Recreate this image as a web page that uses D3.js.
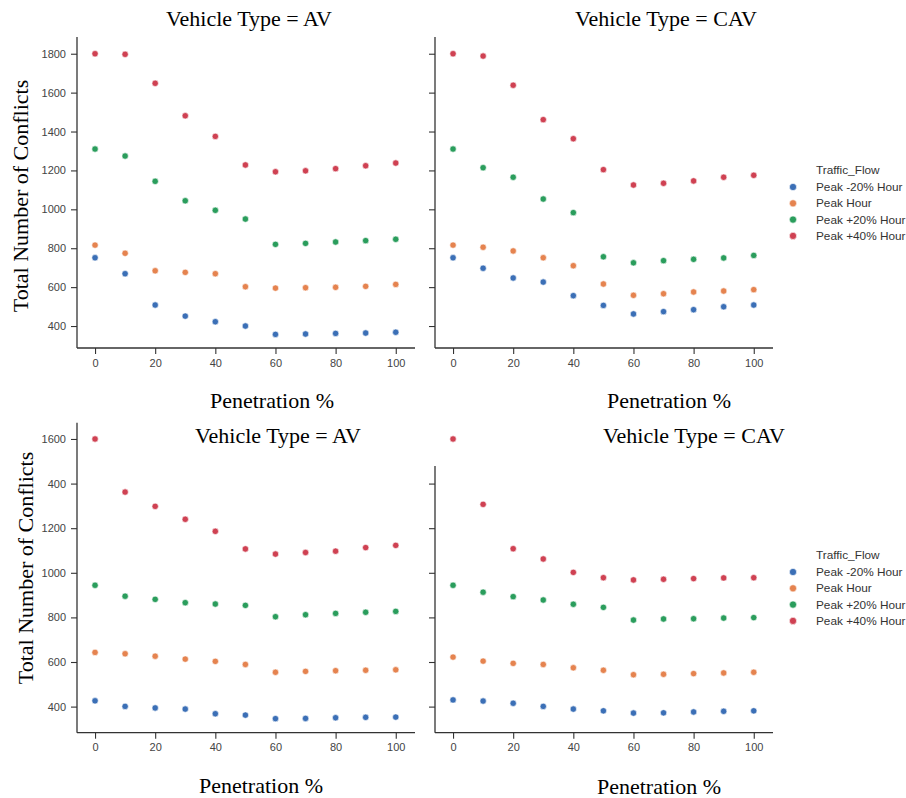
<!DOCTYPE html>
<html>
<head>
<meta charset="utf-8">
<script src="https://cdn.jsdelivr.net/npm/d3@7"></script>
<style>
  body { margin: 0; background: #fff; }
  svg { display: block; }
</style>
</head>
<body>
<script>
// data
var penetration = [0, 10, 20, 30, 40, 50, 60, 70, 80, 90, 100];
var flows = ["Peak -20% Hour", "Peak Hour", "Peak +20% Hour", "Peak +40% Hour"];
var flowColors = ["#3b6fb6", "#e5834f", "#2a9d5c", "#cf4152"];

// top row (series order follows flows)
var topAV = [
  [751, 669, 508, 451, 422, 400, 357, 359, 362, 364, 368],
  [816, 774, 684, 676, 669, 602, 595, 597, 599, 604, 614],
  [1310, 1274, 1144, 1044, 995, 950, 820, 825, 832, 839, 846],
  [1800, 1797, 1648, 1481, 1375, 1228, 1193, 1198, 1209, 1224, 1238]
];
var topCAV = [
  [751, 697, 647, 626, 556, 506, 462, 474, 484, 499, 508],
  [816, 805, 786, 751, 710, 616, 558, 566, 575, 580, 587],
  [1310, 1214, 1165, 1053, 983, 756, 725, 736, 743, 750, 763],
  [1800, 1788, 1638, 1461, 1363, 1204, 1125, 1134, 1146, 1165, 1175]
];
// bottom row
var bottomAV = [
  [426, 401, 394, 389, 368, 362, 346, 347, 350, 352, 353],
  [643, 637, 626, 613, 603, 589, 554, 558, 561, 563, 565],
  [944, 895, 881, 866, 860, 854, 803, 812, 818, 823, 827],
  [1600, 1362, 1298, 1240, 1186, 1107, 1084, 1091, 1097, 1113, 1123]
];
var bottomCAV = [
  [430, 425, 415, 401, 389, 381, 371, 372, 376, 379, 381],
  [622, 604, 594, 589, 574, 563, 543, 545, 548, 551, 554],
  [944, 913, 893, 878, 859, 845, 788, 793, 794, 797, 799],
  [1600, 1307, 1108, 1062, 1002, 978, 968, 971, 974, 977, 978]
];

var xTicks = [0, 20, 40, 60, 80, 100];
var topYTicks = [400, 600, 800, 1000, 1200, 1400, 1600, 1800];
var topYLabels = ["400", "600", "800", "1000", "1200", "1400", "1600", "1800"];
var bottomYTicks = [400, 600, 800, 1000, 1200, 1400, 1600];
var bottomYLabels = ["400", "600", "800", "1000", "1200", "400", "1600"];

var width = 906, height = 798;
var svg = d3.select("body").append("svg").attr("width", width).attr("height", height);

var serif = "'Liberation Serif', 'Times New Roman', serif";
var sans = "'Liberation Sans', Arial, sans-serif";

var rows = [
  { yDomain: [287, 1886], yRange: [348, 37], ticks: topYTicks, labels: topYLabels,
    yLabelX: 28, yLabelY: 196, legendY: 170 },
  { yDomain: [283, 1673], yRange: [732.7, 422.7], ticks: bottomYTicks, labels: bottomYLabels,
    yLabelX: 33, yLabelY: 568, legendY: 555 }
];
var cols = [{ x0: 77, x1: 415 }, { x0: 435, x1: 773 }];

var panels = [
  { row: 0, col: 0, data: topAV, title: "Vehicle Type = AV", tx: 249, ty: 26, lx: 272, ly: 408 },
  { row: 0, col: 1, data: topCAV, title: "Vehicle Type = CAV", tx: 666, ty: 26, lx: 669, ly: 408 },
  { row: 1, col: 0, data: bottomAV, title: "Vehicle Type = AV", tx: 278, ty: 443, lx: 261, ly: 793 },
  { row: 1, col: 1, data: bottomCAV, title: "Vehicle Type = CAV", tx: 694, ty: 443, lx: 659, ly: 794, spineTop: 1479 }
];

panels.forEach(function (p) {
  var r = rows[p.row], c = cols[p.col];
  var x = d3.scaleLinear([-6, 106.4], [c.x0, c.x1]);
  var y = d3.scaleLinear(r.yDomain, r.yRange);
  var g = svg.append("g");
  var top = p.spineTop != null ? p.spineTop : r.yDomain[1];

  // y axis
  var yAxis = d3.axisLeft(y)
    .tickValues(r.ticks.filter(function (t) { return t <= top; }))
    .tickSize(6)
    .tickPadding(5)
    .tickFormat(function (d) {
      return p.col === 0 ? r.labels[r.ticks.indexOf(d)] : "";
    });
  g.append("g")
    .attr("transform", "translate(" + c.x0 + ",0)")
    .call(yAxis)
    .call(function (a) { a.select(".domain").remove(); });

  // x axis
  var xAxis = d3.axisBottom(x).tickValues(xTicks).tickSize(6).tickPadding(5);
  g.append("g")
    .attr("transform", "translate(0," + y.range()[0] + ")")
    .call(xAxis)
    .call(function (a) { a.select(".domain").remove(); });

  g.selectAll(".tick line").attr("stroke", "#333").attr("stroke-width", 1.1);
  g.selectAll(".tick text").attr("fill", "#444").style("font-family", sans).style("font-size", "11px");

  // spines
  g.append("line")
    .attr("x1", c.x0).attr("x2", c.x0)
    .attr("y1", y(top)).attr("y2", y.range()[0])
    .attr("stroke", "#333").attr("stroke-width", 1.3);
  g.append("line")
    .attr("x1", c.x0).attr("x2", c.x1)
    .attr("y1", y.range()[0]).attr("y2", y.range()[0])
    .attr("stroke", "#333").attr("stroke-width", 1.3);

  // points
  p.data.forEach(function (series, si) {
    g.append("g")
      .selectAll("circle")
      .data(series)
      .join("circle")
      .attr("cx", function (d, i) { return x(penetration[i]); })
      .attr("cy", function (d) { return y(d); })
      .attr("r", 3.2)
      .attr("fill", flowColors[si])
      .attr("stroke", "#fff")
      .attr("stroke-width", 0.6);
  });

  // title and x label
  svg.append("text")
    .attr("x", p.tx).attr("y", p.ty)
    .attr("text-anchor", "middle")
    .style("font-family", serif).style("font-size", "22px")
    .text(p.title);
  svg.append("text")
    .attr("x", p.lx).attr("y", p.ly)
    .attr("text-anchor", "middle")
    .style("font-family", serif).style("font-size", "22px")
    .text("Penetration %");
});

// y labels and legends, one per row
rows.forEach(function (r) {
  svg.append("text")
    .attr("transform", "translate(" + r.yLabelX + "," + r.yLabelY + ") rotate(-90)")
    .attr("text-anchor", "middle")
    .style("font-family", serif).style("font-size", "22px")
    .text("Total Number of Conflicts");

  var lg = svg.append("g").attr("transform", "translate(0," + r.legendY + ")");
  lg.append("text")
    .attr("x", 816).attr("y", 0).attr("dy", "0.35em")
    .attr("fill", "#333")
    .style("font-family", sans).style("font-size", "11.8px")
    .text("Traffic_Flow");
  var item = lg.selectAll("g.item")
    .data(flows)
    .join("g")
    .attr("class", "item")
    .attr("transform", function (d, i) { return "translate(0," + (17 + i * 16.3) + ")"; });
  item.append("circle")
    .attr("cx", 793).attr("cy", 0).attr("r", 3.6)
    .attr("fill", function (d, i) { return flowColors[i]; })
    .attr("stroke", "#fff").attr("stroke-width", 0.6);
  item.append("text")
    .attr("x", 816).attr("y", 0).attr("dy", "0.35em")
    .attr("fill", "#333")
    .style("font-family", sans).style("font-size", "11.8px")
    .text(function (d) { return d; });
});
</script>
</body>
</html>
